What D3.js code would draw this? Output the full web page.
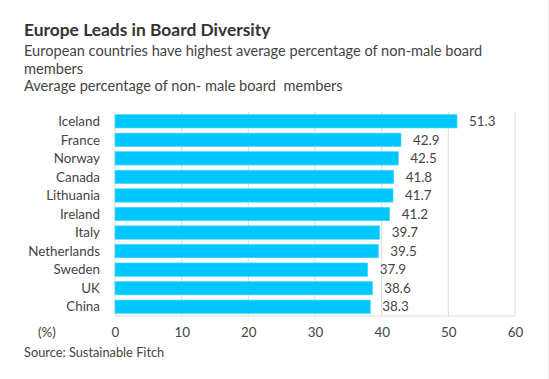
<!DOCTYPE html>
<html>
<head>
<meta charset="utf-8">
<script src="https://cdn.jsdelivr.net/npm/d3@7"></script>
<style>
  body { margin: 0; background: #fff; }
  text { font-family: Lato, "Open Sans", sans-serif; }
</style>
</head>
<body>
<div id="chart"></div>
<script>
// data
var countries = ["Iceland", "France", "Norway", "Canada", "Lithuania", "Ireland",
                 "Italy", "Netherlands", "Sweden", "UK", "China"];
var values = [51.3, 42.9, 42.5, 41.8, 41.7, 41.2, 39.7, 39.5, 37.9, 38.6, 38.3];
var xTicks = [0, 10, 20, 30, 40, 50, 60];

var width = 549, height = 379;
var plot = {left: 115, right: 515, top: 112, bottom: 316};

var svg = d3.select("#chart").append("svg")
    .attr("width", width)
    .attr("height", height);

svg.append("line")
    .attr("x1", 548.5).attr("x2", 548.5)
    .attr("y1", 0).attr("y2", height)
    .attr("stroke", "#eee");

// titles
svg.append("text").attr("x", 24).attr("y", 36)
    .attr("font-size", 17.4).attr("font-weight", "bold").attr("fill", "#333")
    .text("Europe Leads in Board Diversity");
var subs = ["European countries have highest average percentage of non-male board",
            "members",
            "Average percentage of non- male board  members"];
svg.selectAll("text.sub").data(subs).enter().append("text")
    .attr("class", "sub")
    .attr("x", 24)
    .attr("y", function(d, i) { return 56 + i * 17.5; })
    .attr("font-size", 14.6).attr("fill", "#444")
    .attr("xml:space", "preserve")
    .style("white-space", "pre")
    .text(function(d) { return d; });

var x = d3.scaleLinear().domain([0, 60]).range([plot.left, plot.right]);
var y = d3.scaleBand().domain(countries).range([plot.top, plot.bottom]).paddingInner(0.28).paddingOuter(0.14);

// grid
svg.append("g").selectAll("line").data(xTicks).enter().append("line")
    .attr("x1", function(d) { return x(d); })
    .attr("x2", function(d) { return x(d); })
    .attr("y1", plot.top).attr("y2", plot.bottom)
    .attr("stroke", "#dcdcdc");
svg.append("line")
    .attr("x1", plot.left).attr("x2", plot.right)
    .attr("y1", plot.bottom).attr("y2", plot.bottom)
    .attr("stroke", "#dcdcdc");

// bars
svg.append("g").selectAll("rect").data(values).enter().append("rect")
    .attr("x", x(0))
    .attr("y", function(d, i) { return y(countries[i]); })
    .attr("width", function(d) { return x(d) - x(0); })
    .attr("height", y.bandwidth())
    .attr("fill", "#00c8ff")
    .attr("stroke", "#40d6ff")
    .attr("stroke-width", 0.6);

// category labels
svg.append("g").selectAll("text").data(countries).enter().append("text")
    .attr("x", 100)
    .attr("y", function(d) { return y(d) + y.bandwidth() / 2; })
    .attr("dy", "0.35em")
    .attr("text-anchor", "end")
    .attr("font-size", 13.4).attr("fill", "#444")
    .text(function(d) { return d; });

// value labels
svg.append("g").selectAll("text").data(values).enter().append("text")
    .attr("x", function(d) { return x(d) + 12; })
    .attr("y", function(d, i) { return y(countries[i]) + y.bandwidth() / 2; })
    .attr("dy", "0.35em")
    .attr("font-size", 13.4).attr("fill", "#444")
    .text(function(d) { return d.toFixed(1); });

// x axis labels
var xAxis = svg.append("g")
    .attr("transform", "translate(0," + plot.bottom + ")")
    .call(d3.axisBottom(x).tickValues(xTicks).tickSize(0).tickPadding(11));
xAxis.select(".domain").remove();
xAxis.selectAll("text")
    .attr("font-size", 13.4).attr("fill", "#444")
    .style("font-family", "Lato, 'Open Sans', sans-serif");

svg.append("text").attr("x", 47).attr("y", 337)
    .attr("text-anchor", "middle")
    .attr("font-size", 13.4).attr("fill", "#444")
    .text("(%)");

svg.append("text").attr("x", 24).attr("y", 357)
    .attr("font-size", 12.8).attr("fill", "#444")
    .text("Source: Sustainable Fitch");
</script>
</body>
</html>
